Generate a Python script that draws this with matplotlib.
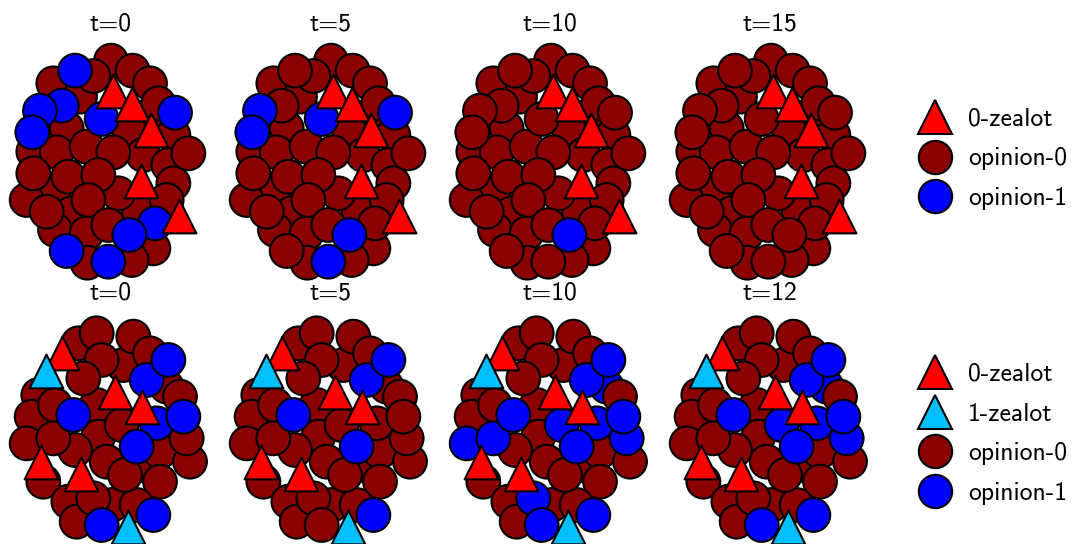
import matplotlib
matplotlib.use('Agg')
import matplotlib.pyplot as plt
from matplotlib.lines import Line2D

plt.rcParams['font.family'] = ['cmss10', 'DejaVu Sans']

DARK = '#8b0000'
BLUE = '#0000ff'
RED = '#ff0000'
CYAN = '#00bfff'

# node layout of the upper network (same for all time steps)
top_x = [160, 215, 415, 440,
         160, 240, 200, 385, 520, 100, 430, 505, 520, 355, 500, 80, 165, 260, 460, 262,
         395, 333, 398, 280, 450, 475, 170, 260, 340, 565, 100, 205, 295, 140, 265, 325,
         225, 185, 120, 97, 305, 525, 465, 388, 200, 325]
top_y = [455, 520, 510, 230,
         130, 170, 265, 265, 285, 335, 345, 375, 430, 460, 480, 480, 570, 580, 625, 668,
         660, 62, 92, 108, 130, 190, 337, 320, 337, 340, 400, 410, 405, 515, 480, 555,
         92, 197, 212, 277, 237, 218, 550, 585, 633, 665]
top_zx = [340, 397, 452, 422, 537]
top_zy = [152, 192, 271, 423, 529]

# opinions of the upper network at each time step
top_times = ['t=0', 't=5', 't=10', 't=15']
top_t0 = [0, 0, 0, 0,
          0, 0, 0, 0, 0, 0, 0, 0, 0, 0, 0, 0, 0, 0, 0, 0, 0, 0, 0, 0, 0, 0, 0, 0, 0, 0, 0, 0, 0, 0, 0, 0,
          1, 1, 1, 1, 1, 1, 1, 1, 1, 1]
top_t5 = [0, 0, 0, 0,
          0, 0, 0, 0, 0, 0, 0, 0, 0, 0, 0, 0, 0, 0, 0, 0, 0, 0, 0, 0, 0, 0, 0, 0, 0, 0, 0, 0, 0, 0, 0, 0,
          0, 0, 1, 1, 1, 1, 0, 1, 0, 1]
top_t10 = [0, 0, 0, 0,
           0, 0, 0, 0, 0, 0, 0, 0, 0, 0, 0, 0, 0, 0, 0, 0, 0, 0, 0, 0, 0, 0, 0, 0, 0, 0, 0, 0, 0, 0, 0, 0,
           0, 0, 0, 0, 0, 0, 0, 1, 0, 0]
top_t15 = [0, 0, 0, 0,
           0, 0, 0, 0, 0, 0, 0, 0, 0, 0, 0, 0, 0, 0, 0, 0, 0, 0, 0, 0, 0, 0, 0, 0, 0, 0, 0, 0, 0, 0, 0, 0,
           0, 0, 0, 0, 0, 0, 0, 0, 0, 0]

# node layout of the lower network
bot_x = [370, 430,
         235, 500, 115, 540, 95, 165, 290, 295, 480, 570, 130, 480, 205, 335, 410, 230,
         290, 400, 305, 450, 250, 320, 375, 225,
         80, 160, 560, 280, 365, 470, 550, 440, 505, 220, 410, 460, 305]
bot_y = [180, 480,
         115, 245, 270, 275, 335, 300, 300, 395, 440, 470, 530, 530, 590, 600, 600, 650,
         85, 95, 165, 145, 220, 470, 510, 435,
         415, 400, 400, 580, 360, 355, 335, 225, 165, 330, 425, 630, 660]
bot_z0x = [185, 345, 425, 122, 243]
bot_z0y = [145, 262, 305, 470, 508]
bot_z1x = [138, 383]
bot_z1y = [199, 667]

bot_times = ['t=0', 't=5', 't=10', 't=12']
bot_t0 = [0, 0,
          0, 0, 0, 0, 0, 0, 0, 0, 0, 0, 0, 0, 0, 0, 0, 0, 0, 0, 0, 0, 0, 0, 0, 0,
          0, 0, 0, 0, 0, 1, 1, 1, 1, 1, 1, 1, 1]
bot_t5 = [0, 0,
          0, 0, 0, 0, 0, 0, 0, 0, 0, 0, 0, 0, 0, 0, 0, 0, 0, 0, 0, 0, 0, 0, 0, 0,
          0, 0, 0, 0, 0, 0, 0, 1, 1, 1, 1, 1, 0]
bot_t10 = [0, 0,
           0, 1, 0, 0, 0, 0, 0, 0, 0, 0, 0, 0, 0, 0, 0, 0, 0, 0, 0, 0, 0, 0, 0, 0,
           1, 1, 1, 1, 1, 1, 1, 1, 1, 1, 1, 1, 1]
bot_t12 = [0, 0,
           0, 1, 0, 0, 0, 0, 0, 0, 0, 0, 0, 0, 0, 0, 0, 0, 0, 0, 0, 0, 0, 0, 0, 0,
           0, 0, 1, 0, 1, 1, 1, 1, 1, 1, 1, 1, 1]

W, H = 1074, 544
fig = plt.figure(figsize=(W / 100, H / 100), dpi=100)

S = 590
LW = 1.5
FS = 18.5


def panel(left, top, w, h, xs, ys, ops, title, pad):
    ax = fig.add_axes([left / W, 1 - (top + h) / H, w / W, h / H])
    cols = [BLUE if o == 1 else DARK for o in ops]
    ax.scatter(xs, ys, s=S, c=cols, edgecolors='black', linewidths=LW, clip_on=False, zorder=2)
    ax.set_xlim(0, w * 3)
    ax.set_ylim(h * 3, 0)
    ax.set_title(title, fontsize=FS, pad=pad)
    ax.axis('off')
    return ax


top_states = [top_t0, top_t5, top_t10, top_t15]
for i, ops in enumerate(top_states):
    ax = panel(220 * i, 40, 220, 245, top_x, top_y, ops, top_times[i], 7)
    ax.scatter(top_zx, top_zy, s=S, marker='^', c=RED, edgecolors='black',
               linewidths=LW, clip_on=False, zorder=3)

bot_states = [bot_t0, bot_t5, bot_t10, bot_t12]
for i, ops in enumerate(bot_states):
    ax = panel(220 * i, 305, 220, 239, bot_x, bot_y, ops, bot_times[i], 1.5)
    ax.scatter(bot_z0x, bot_z0y, s=S, marker='^', c=RED, edgecolors='black',
               linewidths=LW, clip_on=False, zorder=3)
    ax.scatter(bot_z1x, bot_z1y, s=S, marker='^', c=CYAN, edgecolors='black',
               linewidths=LW, clip_on=False, zorder=3)


def handle(marker, color):
    return Line2D([], [], marker=marker, linestyle='None', markerfacecolor=color,
                  markeredgecolor='black', markeredgewidth=LW, markersize=24)


leg_kw = dict(loc='center left', frameon=False, fontsize=FS, labelspacing=0.66,
              handletextpad=0.58, handlelength=1.4, borderpad=0, borderaxespad=0)
fig.legend([handle('^', RED), handle('o', DARK), handle('o', BLUE)],
           ['0-zealot', 'opinion-0', 'opinion-1'],
           bbox_to_anchor=(917 / W, 1 - 159 / H), **leg_kw)
fig.legend([handle('^', RED), handle('^', CYAN), handle('o', DARK), handle('o', BLUE)],
           ['0-zealot', '1-zealot', 'opinion-0', 'opinion-1'],
           bbox_to_anchor=(917 / W, 1 - 434 / H), **leg_kw)

fig.savefig('out.png', dpi=100)
